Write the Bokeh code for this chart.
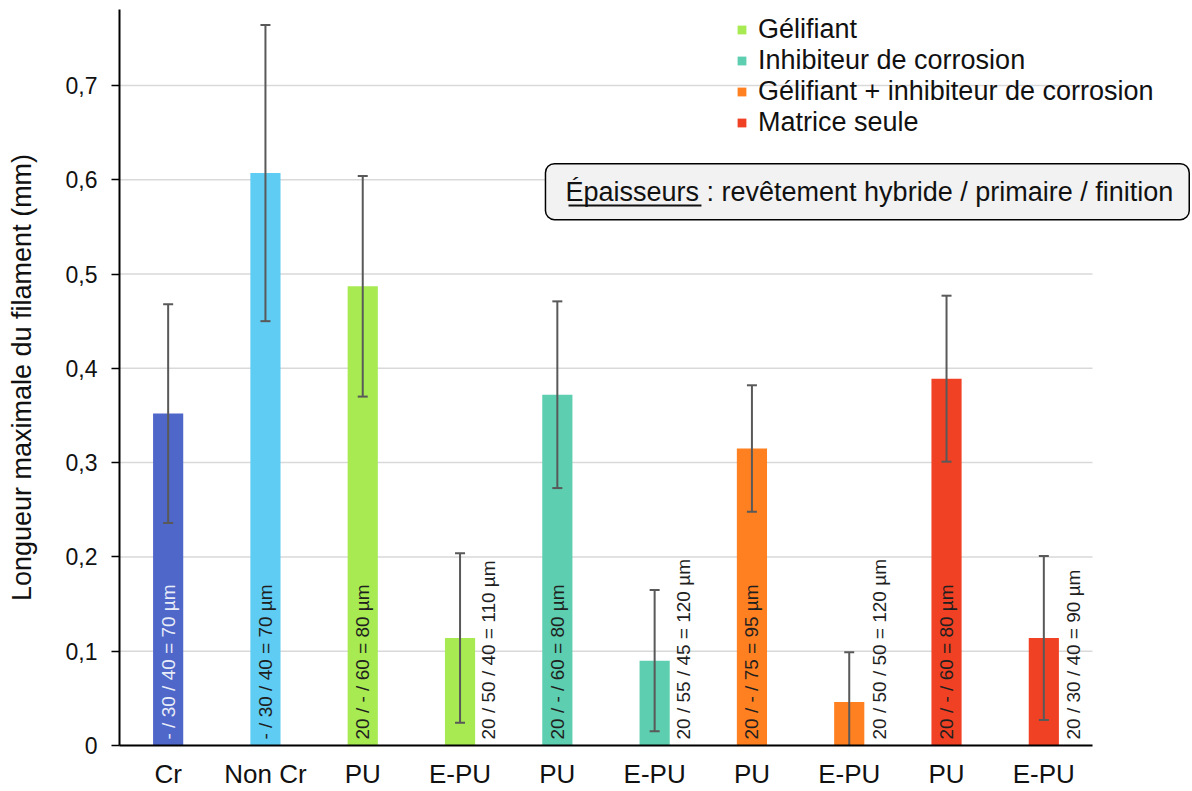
import numpy as np
from bokeh.plotting import figure
from bokeh.models import (ColumnDataSource, Range1d, FixedTicker, Legend, LegendItem,
                          Label, BoxAnnotation)
from bokeh.core.properties import value
from bokeh.embed import file_html
from bokeh.resources import INLINE

# ---------------- data ----------------
categories = ["Cr", "Non Cr", "PU", "E-PU", "PU", "E-PU", "PU", "E-PU", "PU", "E-PU"]
groups = ["Cr", "Non Cr",
          "Gélifiant", "Gélifiant",
          "Inhibiteur de corrosion", "Inhibiteur de corrosion",
          "Gélifiant + inhibiteur de corrosion", "Gélifiant + inhibiteur de corrosion",
          "Matrice seule", "Matrice seule"]
values = [0.352, 0.607, 0.487, 0.114, 0.372, 0.090, 0.315, 0.046, 0.389, 0.114]
errors = [0.116, 0.157, 0.117, 0.090, 0.099, 0.075, 0.067, 0.053, 0.088, 0.087]
thickness = ["- / 30 / 40 = 70 µm", "- / 30 / 40 = 70 µm",
             "20 / - / 60 = 80 µm", "20 / 50 / 40 = 110 µm",
             "20 / - / 60 = 80 µm", "20 / 55 / 45 = 120 µm",
             "20 / - / 75 = 95 µm", "20 / 50 / 50 = 120 µm",
             "20 / - / 60 = 80 µm", "20 / 30 / 40 = 90 µm"]
colors = ["#4E67C8", "#5ECCF3", "#A7EA52", "#A7EA52", "#5DCEAF", "#5DCEAF",
          "#FF8021", "#FF8021", "#F14124", "#F14124"]
label_colors = ["#E8ECF8", "#1F1F1F", "#1F1F1F", "#1F1F1F", "#1F1F1F", "#1F1F1F",
                "#1F1F1F", "#1F1F1F", "#1F1F1F", "#1F1F1F"]
label_shift = [0, 0, 0, 28, 0, 29, 0, 30, 0, 30]
y_ticks = [0, 0.1, 0.2, 0.3, 0.4, 0.5, 0.6, 0.7]
y_tick_labels = ["0", "0,1", "0,2", "0,3", "0,4", "0,5", "0,6", "0,7"]
legend_groups = ["Gélifiant", "Inhibiteur de corrosion",
                 "Gélifiant + inhibiteur de corrosion", "Matrice seule"]
note_text = "Épaisseurs : revêtement hybride / primaire / finition"

FONT = "Liberation Sans"

xs = list(range(len(categories)))
vals = np.array(values)
errs = np.array(errors)
src = ColumnDataSource(dict(x=xs, top=values, color=colors, group=groups,
                            lo=list(vals - errs), hi=list(vals + errs),
                            txt=thickness, tcol=label_colors, tshift=label_shift))

n = len(categories)
p = figure(width=1192, height=791, output_backend="svg", toolbar_location=None,
           x_range=Range1d(-0.5, 10.528), y_range=Range1d(0, 0.7805),
           min_border_left=119, min_border_right=0, min_border_top=9, min_border_bottom=46)
p.outline_line_color = None
p.background_fill_color = "white"
p.border_fill_color = "white"
p.xgrid.grid_line_color = None
p.ygrid.grid_line_color = None

# horizontal grid lines limited to the category span
p.segment(x0=-0.5, x1=n - 0.5, y0=y_ticks, y1=y_ticks, line_color="#D9D9D9", line_width=1.5)

bars = p.vbar(x="x", top="top", width=0.31, bottom=0, fill_color="color",
              line_color=None, source=src)

# error bars
p.segment(x0="x", y0="lo", x1="x", y1="hi", line_color="#595959", line_width=2, source=src)
p.scatter(x="x", y="hi", marker="dash", size=10, line_color="#595959", line_width=2, source=src)
p.scatter(x="x", y="lo", marker="dash", size=10, line_color="#595959", line_width=2, source=src)

# thickness labels
p.text(x="x", y=0, text="txt", angle=np.pi / 2, text_align="left", text_baseline="middle",
       x_offset="tshift", y_offset=-6, text_color="tcol", text_font=value(FONT),
       text_font_size="19px", source=src)

# axes
p.xaxis.ticker = FixedTicker(ticks=xs)
p.xaxis.bounds = (-0.5, n - 0.5)
p.xaxis.major_label_overrides = {i: c for i, c in enumerate(categories)}
p.xaxis.major_tick_line_color = None
p.xaxis.major_tick_out = 0
p.xaxis.major_tick_in = 0
p.xaxis.minor_tick_line_color = None
p.xaxis.major_label_text_font = FONT
p.xaxis.major_label_text_font_size = "26px"
p.xaxis.major_label_text_color = "#111111"
p.xaxis.major_label_standoff = 13
p.xaxis.axis_line_color = "black"
p.xaxis.axis_line_width = 2

p.yaxis.ticker = FixedTicker(ticks=y_ticks)
p.yaxis.major_label_overrides = {t: l for t, l in zip(y_ticks, y_tick_labels)}
p.yaxis.minor_tick_line_color = None
p.yaxis.major_tick_in = 0
p.yaxis.major_tick_out = 8
p.yaxis.major_tick_line_color = "black"
p.yaxis.major_tick_line_width = 1.5
p.yaxis.major_label_standoff = 14
p.yaxis.major_label_text_font = FONT
p.yaxis.major_label_text_font_size = "23px"
p.yaxis.major_label_text_color = "#111111"
p.yaxis.axis_line_color = "black"
p.yaxis.axis_line_width = 2
p.yaxis.axis_label = "Longueur maximale du filament (mm)"
p.yaxis.axis_label_text_font = FONT
p.yaxis.axis_label_text_font_size = "27px"
p.yaxis.axis_label_text_font_style = "normal"
p.yaxis.axis_label_text_color = "#111111"
p.yaxis.axis_label_standoff = 26

# legend
items = [LegendItem(label=g, renderers=[bars], index=groups.index(g)) for g in legend_groups]
legend = Legend(items=items, location=(617, 607), orientation="vertical",
                glyph_width=11, glyph_height=11, label_standoff=11,
                label_height=30, spacing=0, padding=0, margin=0,
                label_text_font=FONT, label_text_font_size="27px",
                label_text_color="#111111",
                border_line_color=None, background_fill_alpha=0)
p.add_layout(legend, "center")

# annotation box
box_label = Label(x=3.878, y=0.5873, x_units="data", y_units="data",
                  text=note_text,
                  text_font=FONT, text_font_size="27px", text_color="#111111",
                  text_align="left", text_baseline="middle",
                  background_fill_color="#F2F2F2", border_line_color="black",
                  border_line_width=1.5, border_radius=9,
                  padding=dict(left=20, right=16, top=13, bottom=13))
p.add_layout(box_label, "center")

underline = BoxAnnotation(left=4.115, right=5.481, bottom=0.5716, top=0.5737,
                          fill_color="#111111", fill_alpha=1, line_color=None)
p.add_layout(underline)

open("out.html", "w").write(file_html(p, INLINE))
